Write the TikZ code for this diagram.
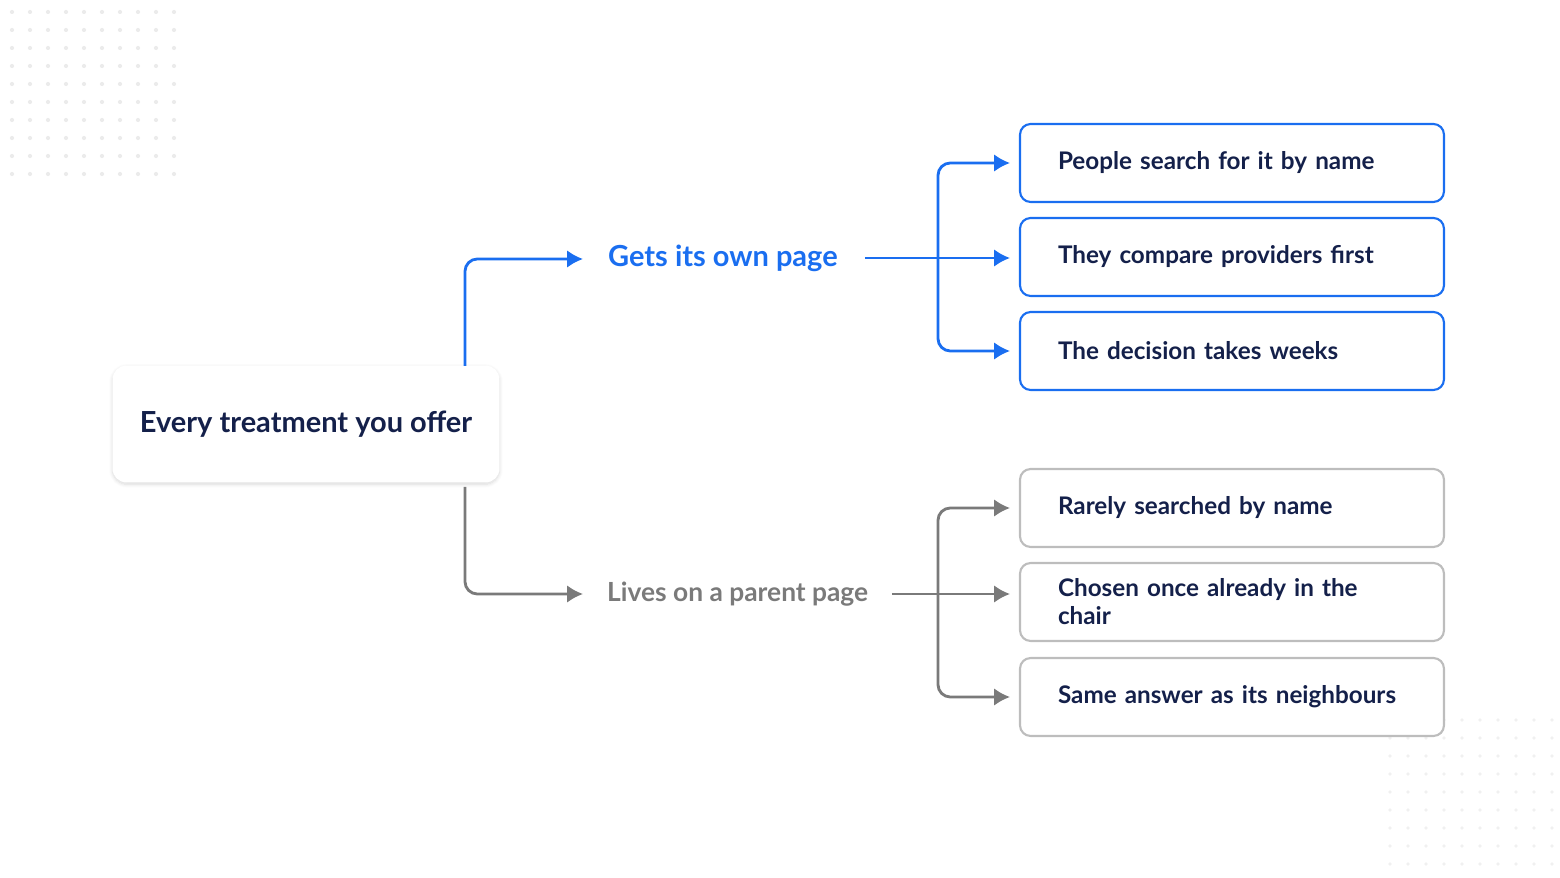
\documentclass[tikz,border=0pt]{standalone}
\usepackage{fontspec}
\setmainfont{Lato}
\usetikzlibrary{arrows.meta,positioning,shadows.blur}
\definecolor{ink}{HTML}{14204A}
\definecolor{pblue}{HTML}{1A6EF0}
\definecolor{pgray}{HTML}{7A7A7A}
\definecolor{lgray}{HTML}{BDBDBD}
\tikzset{
  leaf/.style={draw, rounded corners=6pt, line width=1.2pt, fill=white,
    minimum width=8.48cm, minimum height=1.56cm, text width=6.96cm,
    align=left, font=\fontsize{13.8}{16}\selectfont\bfseries, text=ink},
  hot/.style={leaf, draw=pblue},
  cold/.style={leaf, draw=lgray},
  link/.style={line width=1.6pt, rounded corners=7pt, -{Latex[length=9pt,width=10pt]}}
}
\begin{document}
\begin{tikzpicture}[x=0.02cm,y=-0.02cm]
  \useasboundingbox (0,0) rectangle (1560,878);
  % faint dot grids in the corners
  \foreach \i in {0,...,9}
    \foreach \j in {0,...,9}
      \fill[black!8] (12+\i*18,12+\j*18) circle (1.2pt);
  \foreach \i in {0,...,9}
    \foreach \j in {0,...,8}
      \fill[black!6] (1390+\i*18,720+\j*18) circle (1.1pt);

  \node[fill=white, rounded corners=8pt, minimum width=7.74cm, minimum height=2.34cm,
    blur shadow={shadow blur steps=8, shadow xshift=0pt, shadow yshift=-1pt, shadow opacity=15},
    font=\fontsize{16.5}{20}\selectfont\bfseries, text=ink] (root) at (306,424) {Every treatment you offer};

  \node[font=\fontsize{16.5}{20}\selectfont\bfseries, text=pblue, anchor=west] (own) at (602,258) {Gets its own page};
  \node[font=\fontsize{15}{18}\selectfont\bfseries, text=pgray, anchor=west] (parent) at (601,594) {Lives on a parent page};

  \node[hot] (p1) at (1232,163) {People search for it by name};
  \node[hot] (p2) at (1232,257) {They compare providers first};
  \node[hot] (p3) at (1232,351) {The decision takes weeks};
  \node[cold] (c1) at (1232,508) {Rarely searched by name};
  \node[cold] (c2) at (1232,602) {Chosen once already in the chair};
  \node[cold] (c3) at (1232,697) {Same answer as its neighbours};

  \coordinate (up) at (465,366);
  \coordinate (down) at (465,487);
  \coordinate (jo) at (938,258);
  \coordinate (jp) at (938,594);

  \draw[link, pblue] (up) |- (583,259);
  \draw[link, pgray] (down) |- (583,594);

  \draw[line width=1.6pt, pblue] ([xshift=12pt]own.east) -- (jo);
  \draw[link, pblue] (jo) |- (1010,163);
  \draw[link, pblue] (jo) -- (1010,258);
  \draw[link, pblue] (jo) |- (1010,351);

  \draw[line width=1.6pt, pgray] ([xshift=10pt]parent.east) -- (jp);
  \draw[link, pgray] (jp) |- (1010,508);
  \draw[link, pgray] (jp) -- (1010,594);
  \draw[link, pgray] (jp) |- (1010,697);
\end{tikzpicture}
\end{document}
